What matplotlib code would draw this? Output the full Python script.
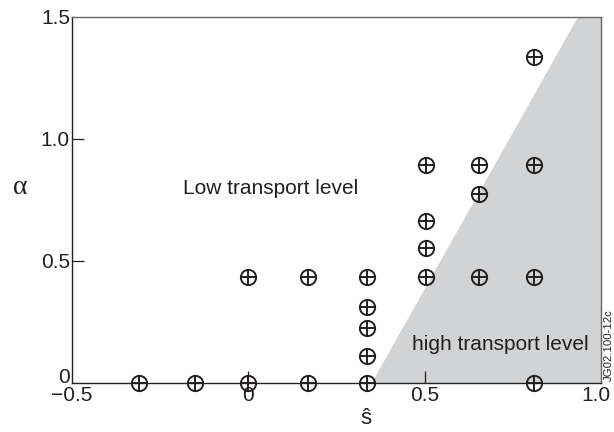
import matplotlib
matplotlib.use("Agg")
import matplotlib.pyplot as plt
from matplotlib.patches import Polygon
from matplotlib.transforms import ScaledTranslation

plt.rcParams['font.family'] = ['Liberation Sans', 'DejaVu Sans']

# Scan points (s_hat, alpha)
s_hat = [-0.31, -0.15, 0.0, 0.17, 0.337,
         0.0, 0.17, 0.337, 0.337, 0.337, 0.337,
         0.503, 0.503, 0.503, 0.503,
         0.655, 0.655, 0.655,
         0.809, 0.809, 0.809, 0.809]
alpha = [0.0, 0.0, 0.0, 0.0, 0.0,
         0.433, 0.433, 0.11, 0.225, 0.31, 0.433,
         0.433, 0.555, 0.665, 0.894,
         0.433, 0.775, 0.894,
         0.0, 0.433, 0.894, 1.335]

# Boundary of the high-transport region
boundary_s = [0.35, 0.935]
boundary_alpha = [0.0, 1.5]

x_ticks = [-0.5, 0.0, 0.5, 1.0]
x_labels = ['\u22120.5', '0', '0.5', '1.0']
y_ticks = [0.0, 0.5, 1.0, 1.5]
y_labels = ['0', '0.5', '1.0', '1.5']

ink = '#231f20'
fs = 15

fig = plt.figure(figsize=(6.14, 4.32), dpi=100)
ax = fig.add_axes([72/614, 1 - 383/432, (601 - 72)/614, (383 - 17)/432])
ax.set_xlim(-0.5, 1.0)
ax.set_ylim(0.0, 1.5)

shade = Polygon([(boundary_s[0], boundary_alpha[0]),
                 (boundary_s[1], boundary_alpha[1]),
                 (1.0, 1.5), (1.0, 0.0)],
                closed=True, facecolor='#d1d3d4', edgecolor='none', zorder=1)
ax.add_patch(shade)

ax.plot(s_hat, alpha, linestyle='none', marker='o', markersize=11,
        markerfacecolor='none', markeredgecolor=ink, markeredgewidth=1.4,
        clip_on=False, zorder=5)
ax.plot(s_hat, alpha, linestyle='none', marker='+', markersize=11,
        markeredgecolor=ink, markeredgewidth=1.4, clip_on=False, zorder=5)

for side in ['left', 'bottom']:
    ax.spines[side].set_color('#222222')
    ax.spines[side].set_linewidth(1.0)
for side in ['top', 'right']:
    ax.spines[side].set_color('#666666')
    ax.spines[side].set_linewidth(1.0)

ax.set_xticks(x_ticks)
ax.set_xticklabels(x_labels)
ax.set_yticks(y_ticks)
ax.set_yticklabels(y_labels)
ax.tick_params(axis='both', direction='in', length=8.6, width=0.9,
               colors=ink, labelsize=fs)
ax.tick_params(axis='x', pad=2.0)
ax.tick_params(axis='y', pad=1.5)

# Hide tick marks that sit on the frame corners
xt = ax.xaxis.get_major_ticks()
for i in (0, 3):
    xt[i].tick1line.set_visible(False)
yt = ax.yaxis.get_major_ticks()
for i in (0, 3):
    yt[i].tick1line.set_visible(False)
ax.get_yticklabels()[0].set_va('baseline')

# Nudge the last x label so it stays inside the figure
last = ax.get_xticklabels()[-1]
last.set_transform(last.get_transform()
                   + ScaledTranslation(-4/72, 0, fig.dpi_scale_trans))

ax.text(0.063, 0.796, 'Low transport level', fontsize=fs, color=ink,
        ha='center', va='center', zorder=6)
ax.text(0.714, 0.159, 'high transport level', fontsize=fs, color=ink,
        ha='center', va='center', zorder=6)

fig.text(20/614, 1 - 188/432, '\u03b1', fontsize=20, color=ink,
         family=['Liberation Serif', 'DejaVu Serif'], ha='center', va='center')
fig.text(366/614, 1 - 418/432, '\u015d', fontsize=16, color=ink,
         ha='center', va='center')
fig.text(608.5/614, 1 - 345/432, 'JG02.100-12c', fontsize=8.2, color=ink,
         rotation=90, ha='center', va='center')

fig.savefig('out.png', dpi=100)
